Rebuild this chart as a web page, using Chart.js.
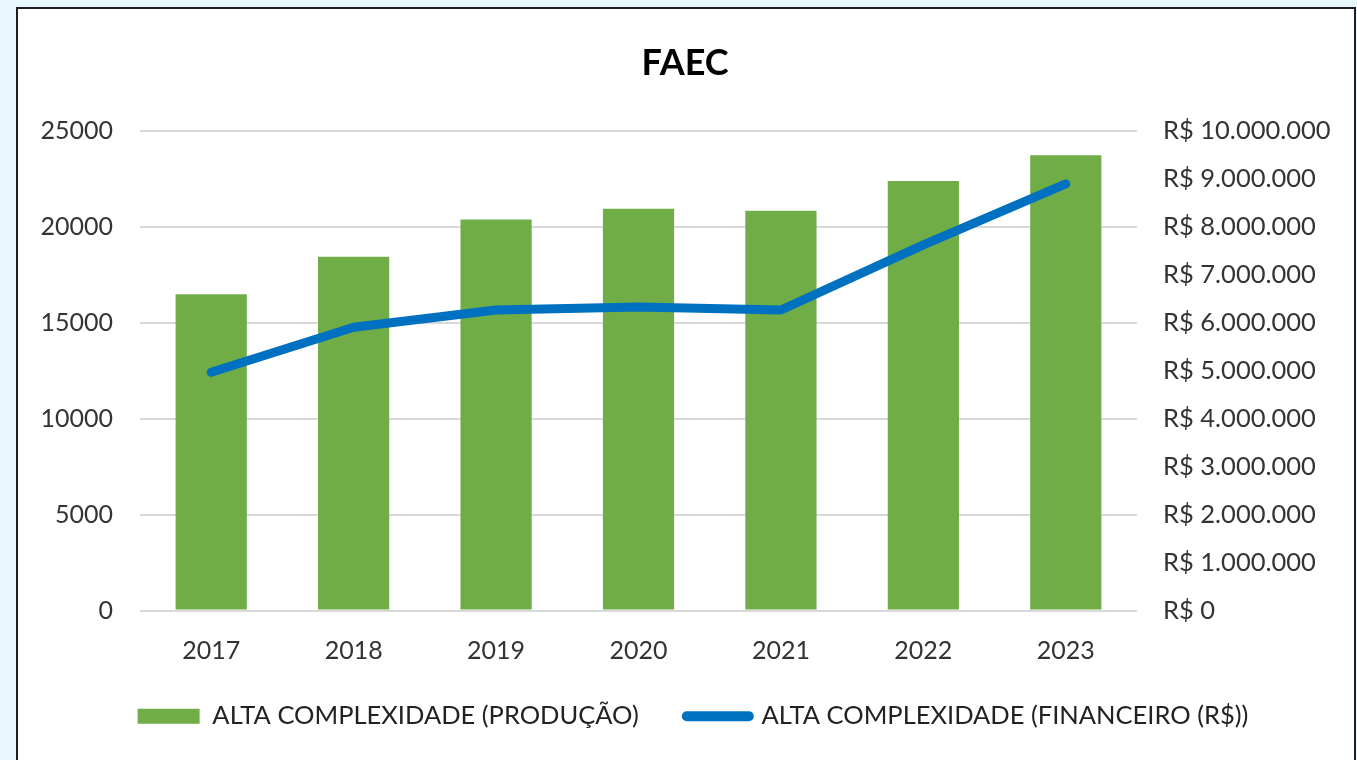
<!DOCTYPE html>
<html>
<head>
<meta charset="utf-8">
<script src="https://cdn.jsdelivr.net/npm/chart.js@4"></script>
<style>
  body { margin: 0; background: #e9f8fc; width: 1357px; height: 760px; overflow: hidden; }
  #box { position: absolute; left: 16px; top: 7px; width: 1336px; height: 800px; border: 2px solid #1e1e1e; border-bottom: none; background: #fff; }
  #wrap { position: absolute; left: 0; top: 0; width: 1334px; height: 751px; }
</style>
</head>
<body>
<div id="box"><div id="wrap"><canvas id="chart"></canvas></div></div>
<script>
var years = ["2017", "2018", "2019", "2020", "2021", "2022", "2023"];
var producao = [16500, 18450, 20400, 20950, 20850, 22400, 23750];
var financeiro = [4970000, 5910000, 6270000, 6330000, 6270000, 7630000, 8900000];
var serieNames = ["ALTA COMPLEXIDADE (PRODUÇÃO)", "ALTA COMPLEXIDADE (FINANCEIRO (R$))"];

function reais(v) {
  return "R$ " + String(v).replace(/\B(?=(\d{3})+(?!\d))/g, ".");
}

Chart.defaults.font.family = "Lato";
Chart.defaults.color = "#333333";

var defaultLabels = Chart.defaults.plugins.legend.labels.generateLabels;

// wide gap between the legend items, so pull the legend back up and a bit right
var nudgeLegend = {
  id: 'nudgeLegend',
  afterLayout: function(c) {
    c.legend.left += 8;
    c.legend.right += 8;
    c.legend.top -= 39;
    c.legend.bottom -= 39;
  }
};

var ctx = document.getElementById("chart").getContext('2d');
var chart = new Chart(ctx, {
  type: 'bar',
  data: {
    labels: years,
    datasets: [{
      label: serieNames[0],
      data: producao,
      backgroundColor: "#70ad47",
      borderWidth: 0,
      barPercentage: 0.5,
      categoryPercentage: 1,
      pointStyle: 'rect',
      yAxisID: 'y',
      order: 2
    }, {
      type: 'line',
      label: serieNames[1],
      data: financeiro,
      borderColor: "#0070c0",
      backgroundColor: "#0070c0",
      borderWidth: 9,
      borderCapStyle: 'round',
      borderJoinStyle: 'round',
      pointRadius: 0,
      pointStyle: 'line',
      tension: 0,
      yAxisID: 'y1',
      order: 1
    }]
  },
  plugins: [nudgeLegend],
  options: {
    responsive: true,
    maintainAspectRatio: false,
    animation: false,
    layout: { padding: { left: 0, right: 0, top: 0, bottom: -18 } },
    plugins: {
      tooltip: { enabled: false },
      title: {
        display: true,
        text: "FAEC",
        color: "#000",
        font: { size: 36, weight: 'bold' },
        padding: { top: 33, bottom: 46 }
      },
      legend: {
        position: 'bottom',
        labels: {
          usePointStyle: true,
          pointStyleWidth: 62,
          boxHeight: 15,
          padding: 48,
          color: "#222",
          font: { size: 25.5 },
          sort: function(a, b) { return a.datasetIndex - b.datasetIndex; },
          generateLabels: function(c) {
            var items = defaultLabels(c);
            items.forEach(function(it) {
              if (it.pointStyle === 'line') { it.lineCap = 'round'; it.lineWidth = 10; }
            });
            return items;
          }
        }
      }
    },
    scales: {
      x: {
        grid: { display: false, drawTicks: false },
        border: { display: false },
        ticks: { padding: 25, font: { size: 25 } },
        afterFit: function(s) { s.height = 84; }
      },
      y: {
        position: 'left',
        min: 0, max: 25000,
        ticks: { stepSize: 5000, padding: 27, font: { size: 25 }, callback: function(v) { return String(v); } },
        grid: { color: "#d9d9d9", lineWidth: 2, drawTicks: false },
        border: { display: false },
        afterFit: function(s) { s.width = 122; }
      },
      y1: {
        position: 'right',
        min: 0, max: 10000000,
        ticks: { stepSize: 1000000, padding: 26, font: { size: 25.5 }, callback: function(v) { return reais(v); } },
        grid: { display: false, drawTicks: false },
        border: { display: false },
        afterFit: function(s) { s.width = 215; }
      }
    }
  }
});
</script>
</body>
</html>
